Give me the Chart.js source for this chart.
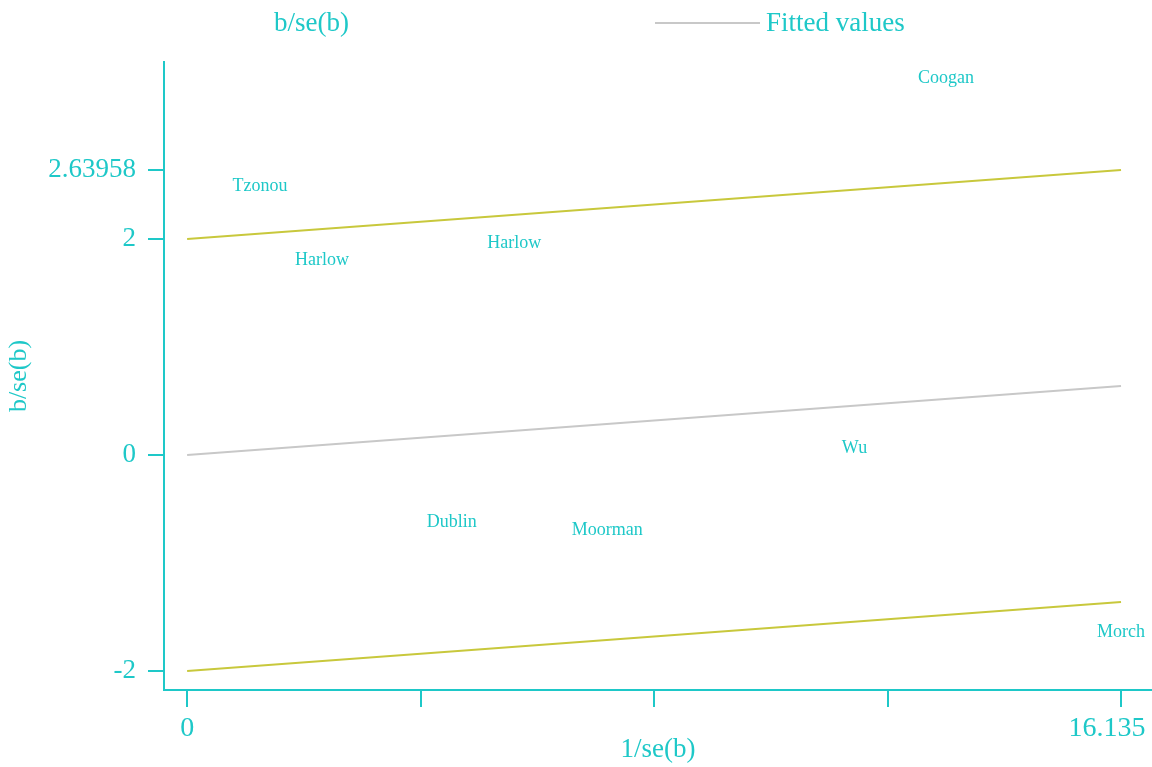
<!DOCTYPE html>
<html lang="en">
<head>
    <meta charset="UTF-8">
    <title>Galbraith plot</title>
    <script src="https://cdn.jsdelivr.net/npm/chart.js"></script>
    <style>
        body { margin: 0; background: #fff; }
        #wrap { width: 1152px; height: 767px; }
    </style>
</head>
<body>
    <div id="wrap"><canvas id="galbraith" width="1152" height="767"></canvas></div>
    <script>
        // studies: 1/se(b) and b/se(b)
        const studyNames = ['Tzonou', 'Harlow', 'Harlow', 'Coogan', 'Wu', 'Dublin', 'Moorman', 'Morch'];
        const invSe = [1.26, 2.33, 5.65, 13.11, 11.53, 4.57, 7.26, 16.135];
        const zStat = [2.49, 1.80, 1.96, 3.49, 0.065, -0.62, -0.70, -1.64];

        // fitted line and +/-2 bands
        const lineX = [0, 16.135];
        const fittedY = [0, 0.63958];
        const upperY = [2, 2.63958];
        const lowerY = [-2, -1.36042];

        const yTicks = [-2, 0, 2, 2.63958];
        const xTicks = [0, 4.03375, 8.0675, 12.10125, 16.135];
        // trailing em space keeps the last label inside the canvas
        const xTickLabels = ['0', '', '', '', '16.135\u2003'];

        const cyan = '#1ec8c8';
        const serif = "'Liberation Serif', 'Times New Roman', serif";

        const toPts = (xs, ys) => xs.map((x, i) => ({ x: x, y: ys[i] }));

        const studyLabels = {
            id: 'studyLabels',
            afterDatasetsDraw(chart) {
                const ctx = chart.ctx;
                const sx = chart.scales.x, sy = chart.scales.y;
                ctx.save();
                ctx.font = '18px ' + serif;
                ctx.fillStyle = cyan;
                ctx.textAlign = 'center';
                ctx.textBaseline = 'middle';
                studyNames.forEach((name, i) => {
                    ctx.fillText(name, sx.getPixelForValue(invSe[i]), sy.getPixelForValue(zStat[i]));
                });
                ctx.restore();
            }
        };

        const topLegend = {
            id: 'topLegend',
            afterDraw(chart) {
                const ctx = chart.ctx;
                ctx.save();
                ctx.font = '27px ' + serif;
                ctx.fillStyle = cyan;
                ctx.textBaseline = 'middle';
                ctx.fillText('b/se(b)', 274, 24);
                ctx.strokeStyle = '#c8c8c8';
                ctx.lineWidth = 2;
                ctx.beginPath();
                ctx.moveTo(655, 23);
                ctx.lineTo(760, 23);
                ctx.stroke();
                ctx.fillText('Fitted values', 766, 24);
                ctx.restore();
            }
        };

        new Chart(document.getElementById('galbraith').getContext('2d'), {
            type: 'scatter',
            data: {
                datasets: [
                    {
                        label: 'b/se(b)',
                        data: toPts(invSe, zStat),
                        pointRadius: 0,
                        showLine: false
                    },
                    {
                        label: 'Fitted values',
                        data: toPts(lineX, fittedY),
                        showLine: true,
                        borderColor: '#c8c8c8',
                        borderWidth: 2,
                        pointRadius: 0
                    },
                    {
                        label: 'upper',
                        data: toPts(lineX, upperY),
                        showLine: true,
                        borderColor: '#c8c83c',
                        borderWidth: 2,
                        pointRadius: 0
                    },
                    {
                        label: 'lower',
                        data: toPts(lineX, lowerY),
                        showLine: true,
                        borderColor: '#c8c83c',
                        borderWidth: 2,
                        pointRadius: 0
                    }
                ]
            },
            options: {
                responsive: false,
                animation: false,
                layout: { padding: { top: 62, right: 0, left: 0, bottom: 0 } },
                plugins: {
                    legend: { display: false },
                    tooltip: { enabled: false }
                },
                scales: {
                    x: {
                        type: 'linear',
                        min: -0.4,
                        max: 16.67,
                        afterBuildTicks: s => { s.ticks = xTicks.map(v => ({ value: v })); },
                        afterFit: s => { s.height = 77; s.paddingLeft = 0; s.paddingRight = 0; },
                        ticks: {
                            autoSkip: false,
                            maxRotation: 0,
                            color: cyan,
                            font: { family: serif, size: 28 },
                            padding: 5,
                            callback: (v, i) => xTickLabels[i]
                        },
                        grid: {
                            drawOnChartArea: false,
                            color: cyan,
                            lineWidth: 2,
                            tickLength: 17
                        },
                        border: { color: cyan, width: 2 },
                        title: {
                            display: true,
                            text: '1/se(b)',
                            color: cyan,
                            font: { family: serif, size: 27 },
                            padding: { top: 0, bottom: 1 }
                        }
                    },
                    y: {
                        type: 'linear',
                        min: -2.176,
                        max: 3.639,
                        afterBuildTicks: s => { s.ticks = yTicks.map(v => ({ value: v })); },
                        afterFit: s => { s.width = 164; s.paddingTop = 0; s.paddingBottom = 0; },
                        ticks: {
                            autoSkip: false,
                            color: cyan,
                            font: { family: serif, size: 27 },
                            padding: 12,
                            callback: v => String(v)
                        },
                        grid: {
                            drawOnChartArea: false,
                            color: cyan,
                            lineWidth: 2,
                            tickLength: 16
                        },
                        border: { color: cyan, width: 2 },
                        title: {
                            display: true,
                            text: 'b/se(b)',
                            color: cyan,
                            font: { family: serif, size: 26 },
                            padding: { top: 4, bottom: 0 }
                        }
                    }
                }
            },
            plugins: [studyLabels, topLegend]
        });
    </script>
</body>
</html>
